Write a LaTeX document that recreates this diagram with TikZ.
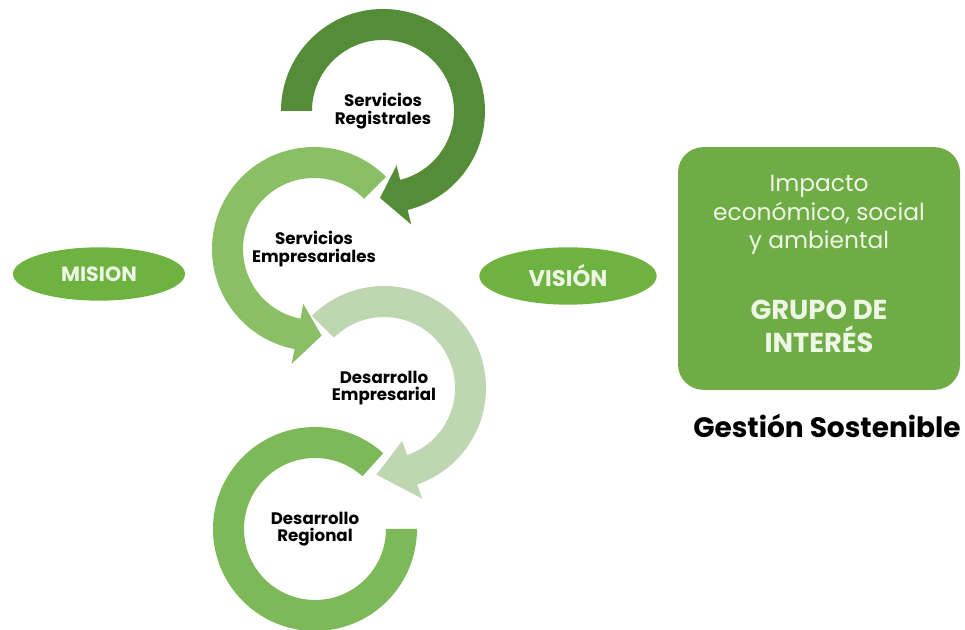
\documentclass[tikz,border=0pt]{standalone}
\usepackage{fontspec}
\setmainfont{Poppins}
\usetikzlibrary{calc,shapes.geometric}
\definecolor{ringdark}{HTML}{548C38}
\definecolor{ringmid}{HTML}{8BBF66}
\definecolor{ringpale}{HTML}{BED6B2}
\definecolor{ringreg}{HTML}{7DB958}
\definecolor{ovalgreen}{HTML}{6EB23F}
\definecolor{boxgreen}{HTML}{70AC46}
\definecolor{boxtext}{HTML}{EEF7E6}
% ring with arrow head: centre, start, end, tip angle, colour
\newcommand{\ringarrow}[5]{%
  \fill[#5] ($(#1)+(#2:102)$) arc[start angle=#2,end angle=#3,radius=102]
    -- ($(#1)+(#3:117)$) -- ($(#1)+(#4:87)$) -- ($(#1)+(#3:56)$)
    -- ($(#1)+(#3:71)$) arc[start angle=#3,end angle=#2,radius=71] -- cycle;}

\begin{document}
\begin{tikzpicture}[x=0.75pt,y=0.75pt,
  ringtext/.style={font=\bfseries\fontsize{12.5}{13}\selectfont,align=center,text=black},
  oval/.style={ellipse,fill=ovalgreen,text=boxtext,font=\bfseries\fontsize{15.5}{17}\selectfont,inner sep=0pt}]
\useasboundingbox (0,0) rectangle (965,630);

\node[ringtext] (reg) at (383,519) {Servicios\\Registrales};
\node[ringtext] (emp) at (314,381) {Servicios\\Empresariales};
\node[ringtext] (demp) at (384,242) {Desarrollo\\Empresarial};
\node[ringtext] (dreg) at (315,101) {Desarrollo\\Regional};

\fill[ringreg] ($(dreg.center)+(48:102)$) arc[start angle=48,end angle=360,radius=102]
  -- ($(dreg.center)+(0:71)$) arc[start angle=360,end angle=48,radius=71] -- cycle;
\ringarrow{demp.center}{135}{-71}{-95}{ringpale}
\ringarrow{emp.center}{45}{259}{275}{ringmid}
\ringarrow{reg.center}{180}{-76}{-92}{ringdark}

\node[oval,minimum width=129pt,minimum height=40pt] (mision) at (99,356) {MISION};
\node[oval,minimum width=133pt,minimum height=43pt,font=\bfseries\fontsize{17}{19}\selectfont] (vision) at (568,354) {VISIÓN};

\node[fill=boxgreen,rounded corners=19pt,minimum width=211.5pt,minimum height=182pt] (grupo) at (819,361.5) {};
\node[text=boxtext,align=center,font=\fontsize{17.5}{21.5}\selectfont] (impacto) at (grupo.center|-0,415) {Impacto\\económico, social\\y ambiental};
\node[text=boxtext,align=center,font=\bfseries\fontsize{20.5}{24.75}\selectfont] (interes) at (grupo.center|-0,303.5) {GRUPO DE\\INTERÉS};
\node[font=\bfseries\fontsize{21}{23}\selectfont] (gestion) at (827,204) {Gestión Sostenible};
\end{tikzpicture}
\end{document}
